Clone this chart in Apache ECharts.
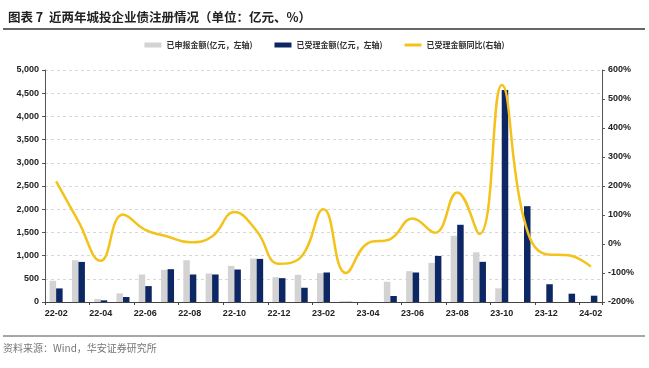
<!DOCTYPE html>
<html><head><meta charset="utf-8">
<script src="https://cdn.jsdelivr.net/npm/echarts@6/dist/echarts.min.js"></script>
<style>html,body{margin:0;padding:0;background:#fff}#c{width:649px;height:368px}</style>
</head><body><div id="c"></div>
<script>
const categories = ['22-02','22-03','22-04','22-05','22-06','22-07','22-08','22-09','22-10','22-11','22-12','23-01','23-02','23-03','23-04','23-05','23-06','23-07','23-08','23-09','23-10','23-11','23-12','24-01','24-02'];
const appliedAmount = [457, 900, 64, 186, 593, 693, 900, 614, 779, 936, 536, 586, 621, 20, 5, 436, 664, 843, 1428, 1071, 295, 0, 0, 0, 0];
const acceptedAmount = [293, 864, 36, 107, 343, 707, 593, 593, 700, 929, 514, 307, 636, 5, 0, 129, 636, 993, 1664, 866, 4570, 2065, 383, 179, 136];
const acceptedYoY = [216, 78, -58, 102, 49, 26, 6, 26, 110, 45, -68, -44, 120, -100, 3, 17, 88, 39, 178, 35, 548, 85, -35, -39, -78];
const leftTicks = {min: 0, max: 5000, interval: 500};
const rightTicks = {min: -200, max: 600, interval: 100};

const chart = echarts.init(document.getElementById('c'), null, {renderer: 'canvas'});
const axisFont = {fontFamily: 'Liberation Sans, Arial, sans-serif', fontSize: 9, fontWeight: 'bold', color: '#222'};
chart.setOption({
  animation: false,
  title: {
    text: '图表 7  近两年城投企业债注册情况（单位：亿元、%）',
    left: 3, top: 6,
    textStyle: {fontFamily: 'Noto Sans CJK SC', fontSize: 12.5, fontWeight: 'bold', color: '#222'}
  },
  graphic: [
    {type: 'line', shape: {x1: 3, y1: 29, x2: 645, y2: 29}, style: {stroke: '#666', lineWidth: 2}},
    {type: 'line', shape: {x1: 3, y1: 336, x2: 645, y2: 336}, style: {stroke: '#888', lineWidth: 1.5}},
    {type: 'text', left: 3, top: 343, style: {text: '资料来源：Wind，华安证券研究所', fill: '#777', font: '10px "Noto Sans CJK SC"'}}
  ],
  legend: {
    top: 36, left: 'center', itemGap: 22, itemWidth: 17, itemHeight: 5,
    textStyle: {fontFamily: 'Noto Sans CJK SC', fontSize: 8, fontWeight: 'bold', color: '#333'},
    data: [
      {name: '已申报金额(亿元，左轴)', icon: 'rect'},
      {name: '已受理金额(亿元，左轴)', icon: 'rect'},
      {name: '已受理金额同比(右轴)', icon: 'path://M0,1H17V4H0Z'}
    ]
  },
  grid: {left: 45, right: 47, top: 70, bottom: 66},
  xAxis: {
    type: 'category', data: categories,
    axisLine: {lineStyle: {color: '#444', width: 1}},
    axisTick: {show: true, interval: 1, length: 3, lineStyle: {color: '#444'}},
    axisLabel: Object.assign({interval: 1, margin: 7}, axisFont)
  },
  yAxis: [
    {
      type: 'value', min: leftTicks.min, max: leftTicks.max, interval: leftTicks.interval,
      axisLine: {show: true, lineStyle: {color: '#555'}},
      axisTick: {show: true, length: 3, lineStyle: {color: '#555'}},
      splitLine: {lineStyle: {color: '#d8d8d8', type: [3, 3]}},
      axisLabel: Object.assign({margin: 6, formatter: v => v.toLocaleString('en-US')}, axisFont)
    },
    {
      type: 'value', min: rightTicks.min, max: rightTicks.max, interval: rightTicks.interval,
      axisLine: {show: true, lineStyle: {color: '#555'}},
      axisTick: {show: true, length: 3, lineStyle: {color: '#555'}},
      splitLine: {show: false},
      axisLabel: Object.assign({margin: 6, formatter: '{value}%'}, axisFont)
    }
  ],
  series: [
    {name: '已申报金额(亿元，左轴)', type: 'bar', data: appliedAmount, barWidth: 6.5, barGap: '0%',
      itemStyle: {color: '#d3d3d3'}},
    {name: '已受理金额(亿元，左轴)', type: 'bar', data: acceptedAmount, barWidth: 6.5, barGap: '0%',
      itemStyle: {color: '#0d2764'}},
    {name: '已受理金额同比(右轴)', type: 'line', yAxisIndex: 1, data: acceptedYoY, smooth: 0.45,
      symbol: 'none', lineStyle: {color: '#f3c31c', width: 2.5}, itemStyle: {color: '#f3c31c'}, z: 5}
  ]
});
</script></body></html>
